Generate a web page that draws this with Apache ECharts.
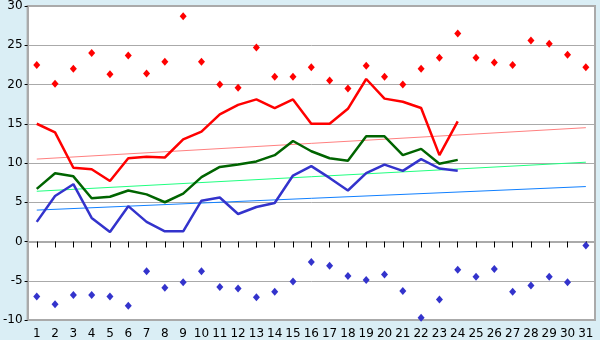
<!DOCTYPE html>
<html><head><meta charset="utf-8">
<script src="https://cdn.jsdelivr.net/npm/echarts@6/dist/echarts.min.js"></script>
<style>html,body{margin:0;padding:0;background:#DAEEF5;}#c{width:600px;height:340px;}</style>
</head><body><div id="c"></div>
<script>
var days = ['1','2','3','4','5','6','7','8','9','10','11','12','13','14','15','16','17','18','19','20','21','22','23','24','25','26','27','28','29','30','31'];
var maxExtreme = [22.5,20.1,22.0,24.0,21.3,23.7,21.4,22.9,28.7,22.9,20.0,19.6,24.7,21.0,21.0,22.2,20.5,19.5,22.4,21.0,20.0,22.0,23.4,26.5,23.4,22.8,22.5,25.6,25.2,23.8,22.2];
var minExtreme = [-7.0,-8.0,-6.8,-6.8,-7.0,-8.2,-3.8,-5.9,-5.2,-3.8,-5.8,-6.0,-7.1,-6.4,-5.1,-2.6,-3.1,-4.4,-4.9,-4.2,-6.3,-9.7,-7.4,-3.6,-4.5,-3.5,-6.4,-5.6,-4.5,-5.2,-0.5];
var maxTemp = [15.0,13.9,9.4,9.2,7.7,10.6,10.8,10.7,13.0,14.0,16.2,17.4,18.1,17.0,18.1,15.0,15.0,16.9,20.7,18.2,17.8,17.0,11.0,15.3];
var meanTemp = [6.7,8.7,8.3,5.5,5.7,6.5,6.0,5.0,6.1,8.2,9.5,9.8,10.2,11.0,12.8,11.5,10.6,10.3,13.4,13.4,11.0,11.8,9.9,10.4];
var minTemp = [2.5,5.8,7.3,3.0,1.2,4.5,2.5,1.3,1.3,5.2,5.6,3.5,4.4,4.9,8.4,9.6,8.1,6.5,8.7,9.8,9.0,10.5,9.3,9.0];
var maxTrend = [['1',10.5],['31',14.5]];
var meanTrend = [['1',6.4],['31',10.1]];
var minTrend = [['1',4.0],['31',7.0]];

var chart = echarts.init(document.getElementById('c'), null, {renderer:'canvas'});
var font = 'DejaVu Sans';
chart.setOption({
  animation:false,
  backgroundColor:'#DAEEF5',
  grid:{left:26,right:5,top:5,bottom:20,show:true,backgroundColor:'#FFFFFF',borderColor:'#AAAAAA',borderWidth:2},
  xAxis:{type:'category',data:days,boundaryGap:true,
    axisLine:{show:true,lineStyle:{color:'#AAAAAA',width:2}},
    axisTick:{show:true,alignWithLabel:true,length:6,lineStyle:{color:'#000000'}},
    axisLabel:{color:'#000000',fontFamily:font,fontSize:12,margin:8,interval:0},
    splitLine:{show:false}},
  yAxis:{type:'value',min:-10,max:30,interval:5,
    axisLine:{show:true,lineStyle:{color:'#AAAAAA',width:2}},
    axisTick:{show:true,length:3,lineStyle:{color:'#000000'}},
    axisLabel:{color:'#000000',fontFamily:font,fontSize:12,margin:5},
    splitLine:{show:true,lineStyle:{color:'#AAAAAA',width:1}}},
  series:[
    {type:'line',data:maxTrend,symbol:'none',lineStyle:{color:'#FF8080',width:1},z:2},
    {type:'line',data:meanTrend,symbol:'none',lineStyle:{color:'#20FF80',width:1},z:2},
    {type:'line',data:minTrend,symbol:'none',lineStyle:{color:'#1080FF',width:1},z:2},
    {type:'line',data:maxTemp,symbol:'none',lineStyle:{color:'#FF0000',width:2.5},z:3},
    {type:'line',data:meanTemp,symbol:'none',lineStyle:{color:'#006400',width:2.5},z:3},
    {type:'line',data:minTemp,symbol:'none',lineStyle:{color:'#3333CC',width:2.5},z:3},
    {type:'scatter',data:maxExtreme,symbol:'diamond',symbolSize:[7,8],itemStyle:{color:'#FF0000',opacity:1},z:4},
    {type:'scatter',data:minExtreme,symbol:'diamond',symbolSize:[7,8],itemStyle:{color:'#3333CC',opacity:1},z:4}
  ]
});
</script></body></html>
